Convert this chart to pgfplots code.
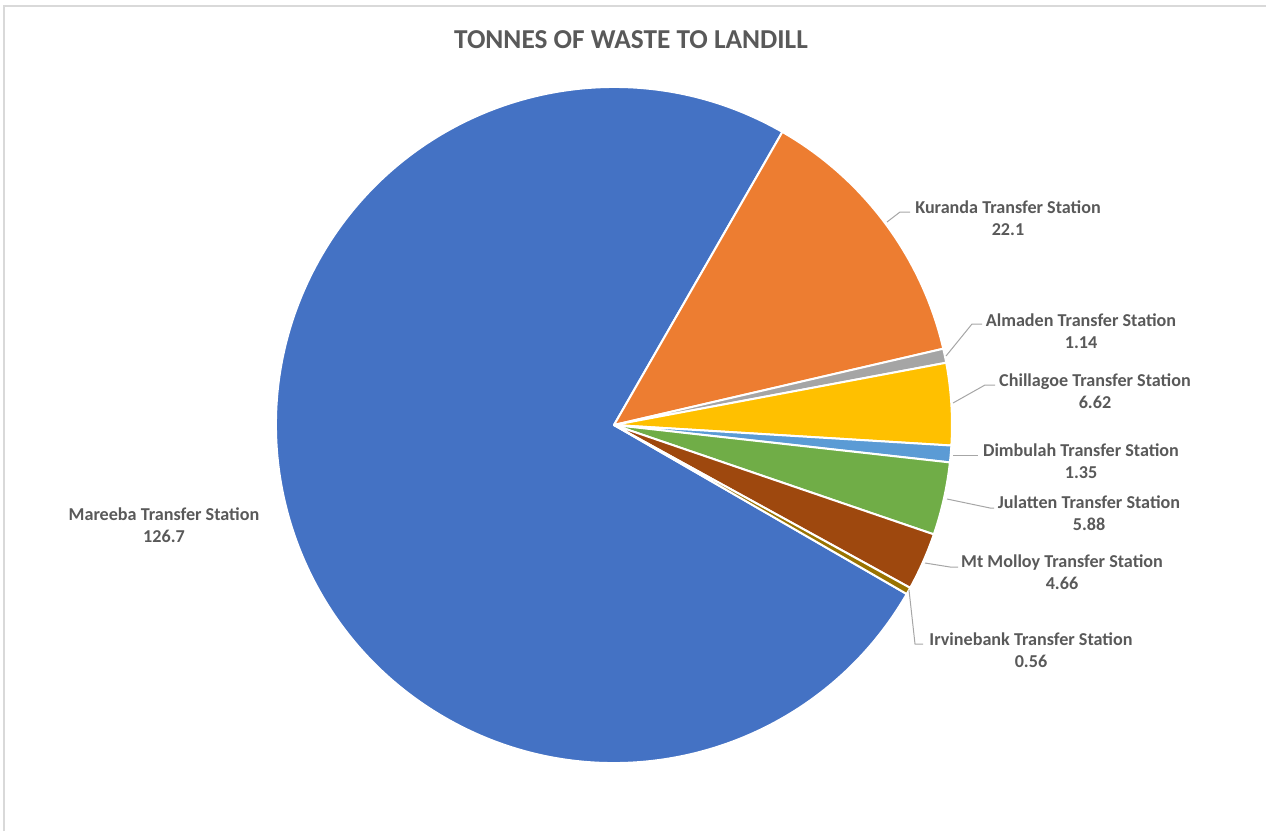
\documentclass[border=0pt]{standalone}
\usepackage{pgfplots}
\pgfplotsset{compat=1.18}
\usepackage{pgfplotstable}
\usepackage{fontspec}
\setmainfont{Carlito}

\definecolor{cMareeba}{HTML}{4472C4}
\definecolor{cKuranda}{HTML}{ED7D31}
\definecolor{cAlmaden}{HTML}{A5A5A5}
\definecolor{cChillagoe}{HTML}{FFC000}
\definecolor{cDimbulah}{HTML}{5B9BD5}
\definecolor{cJulatten}{HTML}{70AD47}
\definecolor{cMolloy}{HTML}{9E480E}
\definecolor{cIrvine}{HTML}{997300}
\definecolor{txt}{HTML}{595959}
\definecolor{leader}{HTML}{A6A6A6}
\definecolor{frame}{HTML}{D9D9D9}

% tonnes of waste to landfill, in slice order (clockwise)
\pgfplotstableread[col sep=comma]{
station,value,color
Mareeba,126.7,cMareeba
Kuranda,22.1,cKuranda
Almaden,1.14,cAlmaden
Chillagoe,6.62,cChillagoe
Dimbulah,1.35,cDimbulah
Julatten,5.88,cJulatten
Mt Molloy,4.66,cMolloy
Irvinebank,0.56,cIrvine
}\piedata

\begin{document}
\begin{tikzpicture}
\pgfplotstablegetrowsof{\piedata}
\pgfmathtruncatemacro\nrows{\pgfplotsretval-1}
\def\total{0}
\pgfplotsforeachungrouped \i in {0,...,\nrows}{%
  \pgfplotstablegetelem{\i}{value}\of\piedata
  \pgfmathsetmacro\total{\total+\pgfplotsretval}%
}
\tikzset{
  lbl/.style={font=\bfseries\fontsize{13.6}{16.5}\selectfont, text=txt, align=center},
  ldr/.style={leader, line width=0.75pt},
}
\begin{axis}[
    width=949.5pt, height=623.25pt,
    scale only axis,
    hide axis,
    clip=false,
    xmin=0, xmax=1266,
    ymin=0, ymax=831,
    y dir=reverse,
]
% light frame of the chart area
\draw[frame, line width=1pt] (axis cs:4,831) -- (axis cs:4,6) -- (axis cs:1266,6);

% pie slices, starting 120 degrees clockwise from the top
\def\cur{-30}
\pgfplotsforeachungrouped \i in {0,...,\nrows}{%
  \pgfplotstablegetelem{\i}{value}\of\piedata \let\v\pgfplotsretval
  \pgfplotstablegetelem{\i}{color}\of\piedata \let\c\pgfplotsretval
  \pgfmathsetmacro\nxt{\cur-\v/\total*360}%
  \edef\temp{\noexpand\filldraw[fill=\c, draw=white, line width=1.5pt, line join=round]
    (axis cs:614,425) -- ++(\cur:253.5pt)
    arc[start angle=\cur, end angle=\nxt, radius=253.5pt] -- cycle;}%
  \temp
  \global\let\cur\nxt
}

% title
\node[font=\bfseries\fontsize{20.5}{24}\selectfont, text=txt] at (axis cs:631,40) {TONNES OF WASTE TO LANDILL};

% leader lines
\draw[ldr] (axis cs:887,222) -- (axis cs:900,212) -- (axis cs:910,212);
\draw[ldr] (axis cs:946,356) -- (axis cs:972,324) -- (axis cs:982,324);
\draw[ldr] (axis cs:953,403) -- (axis cs:985,385) -- (axis cs:995,385);
\draw[ldr] (axis cs:953,455) -- (axis cs:978,455);
\draw[ldr] (axis cs:947,499) -- (axis cs:990,508) -- (axis cs:994,508);
\draw[ldr] (axis cs:925,563) -- (axis cs:950,567) -- (axis cs:958,567);
\draw[ldr] (axis cs:909,590) -- (axis cs:915,644) -- (axis cs:923,644);

% data labels
\node[lbl] at (axis cs:1008,218) {Kuranda Transfer Station\\22.1};
\node[lbl] at (axis cs:1081,331) {Almaden Transfer Station\\1.14};
\node[lbl] at (axis cs:1095,391) {Chillagoe Transfer Station\\6.62};
\node[lbl] at (axis cs:1081,461) {Dimbulah Transfer Station\\1.35};
\node[lbl] at (axis cs:1089,513) {Julatten Transfer Station\\5.88};
\node[lbl] at (axis cs:1062,572) {Mt Molloy Transfer Station\\4.66};
\node[lbl] at (axis cs:1031,650) {Irvinebank Transfer Station\\0.56};
\node[lbl] at (axis cs:164,525) {Mareeba Transfer Station\\126.7};
\end{axis}
\pgfresetboundingbox
\path[use as bounding box] (current axis.south west) rectangle (current axis.north east);
\end{tikzpicture}
\end{document}
